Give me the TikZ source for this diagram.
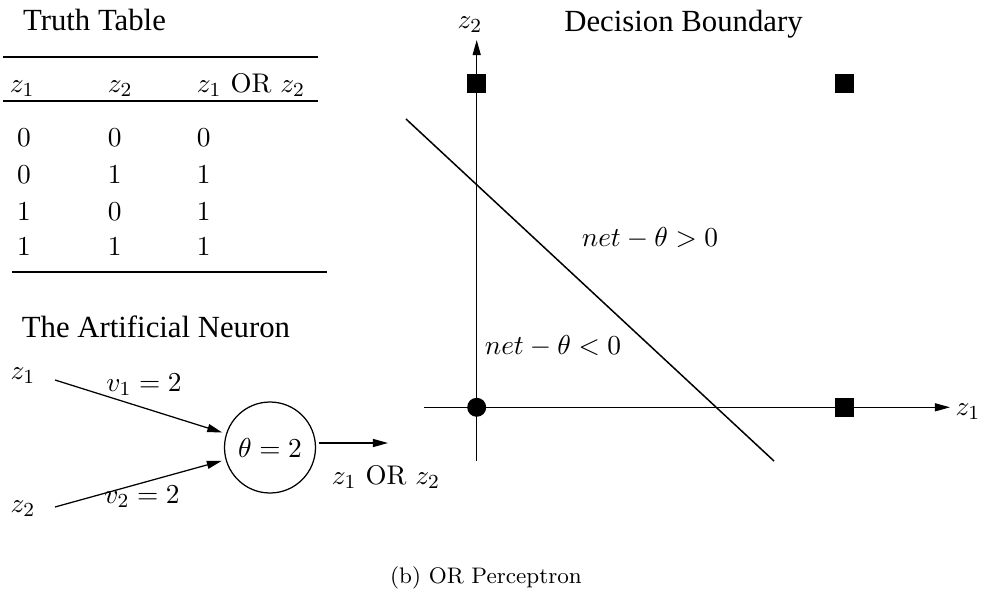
\documentclass[tikz,border=0pt]{standalone}
\usepackage{fontspec}
\newfontfamily\titlefont{Liberation Serif}
\usetikzlibrary{arrows.meta}
\begin{document}
\begin{tikzpicture}[x=0.4pt,y=-0.4pt,
  every node/.style={inner sep=0pt, outer sep=0pt},
  title/.style={font=\titlefont\fontsize{12.3}{14}\selectfont, anchor=base},
  m/.style={font=\fontsize{10.8}{13}\selectfont},
  mb/.style={m, anchor=base west},
  rule/.style={line width=0.6pt},
  conn/.style={line width=0.5pt, -{Triangle[length=6pt,width=3.2pt]}},
  sq/.style={fill=black, minimum size=7.6pt, inner sep=0pt},
  dot/.style={circle, fill=black, minimum size=7.6pt, inner sep=0pt},
]
\useasboundingbox (0,0) rectangle (983,596);

% titles
\node[title] (tt) at (94.5,30) {Truth Table};
\node[title] (tn) at (156,337) {The Artificial Neuron};
\node[title] (tdb) at (683.5,31) {Decision Boundary};

% truth table
\draw[rule] (3,57) -- (318,57);
\draw[rule] (3,101) -- (318,101);
\draw[rule] (12,272) -- (327,272);
\node[mb] (h1) at (10,92) {$z_1$};
\node[mb] (h2) at (108,92) {$z_2$};
\node[mb] (h3) at (197,92) {$z_1$ OR $z_2$};
\foreach \y/\a/\b/\c [count=\i] in {146.7/0/0/0, 183/0/1/1, 220/1/0/1, 255/1/1/1}{
  \node[mb] (r\i a) at (17,\y) {$\a$};
  \node[mb] (r\i b) at (108,\y) {$\b$};
  \node[mb] (r\i c) at (197,\y) {$\c$};
}

% neuron
\node[m] (x1) at (23,376) {$z_1$};
\node[m] (x2) at (23,509) {$z_2$};
\node[draw, circle, minimum size=36.4pt, line width=0.5pt, m] (c) at (270,447.5) {$\theta = 2$};
\coordinate (a1) at (55,380);
\coordinate (a2) at (55,507);
\draw[conn, shorten >=1.8pt] (a1) -- (c);
\draw[conn, shorten >=1.8pt] (a2) -- (c);
\coordinate (o1) at (319,443);
\coordinate (o2) at (388,443);
\draw[conn] (o1) -- (o2);
\node[m] (out) at (386,477) {$z_1$ OR $z_2$};
\node[m] (w1) at (144,385) {$v_1 = 2$};
\node[m] (w2) at (142,497) {$v_2 = 2$};

% decision boundary
\coordinate (O) at (476.7,407.3);
\coordinate (xl) at (424,407.3);
\coordinate (xr) at (950,407.3);
\coordinate (yb) at (476.7,460.7);
\coordinate (yt) at (476.7,40);
\draw[conn] (xl) -- (xr);
\draw[conn] (yb) -- (yt);
\node[m] (lz1) at (968,412) {$z_1$};
\node[m] (lz2) at (470,25) {$z_2$};
\node[sq] (p01) at (476.7,83.7) {};
\node[sq] (p11) at (844.3,83.7) {};
\node[sq] (p10) at (844.3,407.3) {};
\node[dot] (p00) at (O) {};
\coordinate (b1) at (406,119);
\coordinate (b2) at (774,461);
\draw[line width=0.6pt] (b1) -- (b2);
\node[m] (gt) at (650,238) {$net - \theta > 0$};
\node[m] (lt) at (553,346) {$net - \theta < 0$};

% caption
\node[font=\fontsize{9}{11}\selectfont, anchor=base] (cap) at (486,583) {(b) OR Perceptron};
\end{tikzpicture}
\end{document}
